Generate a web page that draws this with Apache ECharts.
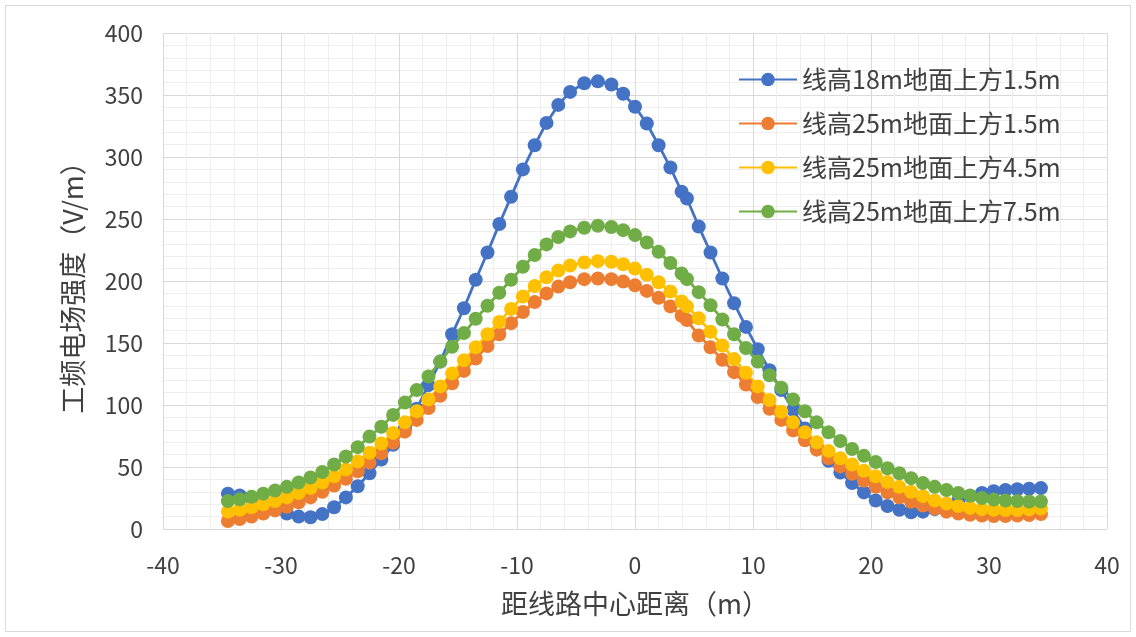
<!DOCTYPE html>
<html>
<head>
<meta charset="utf-8">
<script src="https://cdn.jsdelivr.net/npm/echarts@6/dist/echarts.min.js"></script>
<style>
  html, body { margin: 0; padding: 0; background: #fff; }
  #chart { width: 1136px; height: 637px; }
</style>
</head>
<body>
<div id="chart"></div>
<script>
// distance from line centre (m), shared by all four series
const xValues = [
    -34.5, -33.5, -32.5, -31.5, -30.5, -29.5, -28.5, -27.5, -26.5, -25.5,
    -24.5, -23.5, -22.5, -21.5, -20.5, -19.5, -18.5, -17.5, -16.5, -15.5,
    -14.5, -13.5, -12.5, -11.5, -10.5, -9.5, -8.5, -7.5, -6.5, -5.5,
    -4.3, -3.15, -2, -1, 0, 1, 2, 3, 3.95, 4.4,
    5.4, 6.4, 7.4, 8.4, 9.4, 10.4, 11.4, 12.4, 13.4, 14.4,
    15.4, 16.4, 17.4, 18.4, 19.4, 20.4, 21.4, 22.4, 23.4, 24.4,
    25.4, 26.4, 27.4, 28.4, 29.4, 30.4, 31.4, 32.4, 33.4, 34.4
];

const seriesNames = ['线高18m地面上方1.5m', '线高25m地面上方1.5m', '线高25m地面上方4.5m', '线高25m地面上方7.5m'];
const seriesColors = ['#4472C4', '#ED7D31', '#FFC000', '#70AD47'];

const h18At15 = [
    28.5, 27, 24, 20.5, 16.5, 12.5, 10, 9.5, 12, 17.5,
    25.5, 34.5, 45, 56, 68, 81, 97, 116, 135, 157,
    178, 201, 223, 246, 268, 290, 309.5, 327.5, 342, 352.5,
    359.5, 361, 358.5, 351, 340.5, 327, 309.5, 291.5, 272, 266.5,
    244, 223, 202, 182, 163, 145, 128, 112, 96, 81,
    67, 55, 45.5, 37, 29.5, 23, 18.5, 15.5, 13.5, 14,
    16, 19.5, 23, 26.5, 29, 30.5, 31.5, 32, 32.5, 33
];
const h25At15 = [
    6.5, 8, 10, 12.5, 15, 18, 21.5, 25.5, 30, 35,
    40.5, 46.5, 53.5, 61, 69.5, 78.5, 88, 97.5, 107.5, 117.5,
    127.5, 137.5, 147.5, 157, 166, 175, 183, 190, 195.5, 199,
    201.5, 202, 201.5, 199.5, 196.5, 192, 186.5, 179.5, 172, 168.5,
    156, 146.5, 136.5, 126.5, 116.5, 106.5, 97, 88, 79.5, 71.5,
    64, 57, 50.5, 44.5, 39, 34, 29.5, 25.5, 22, 19,
    16.5, 14, 12.5, 11.5, 10.8, 10.5, 10.5, 10.8, 11.3, 12
];
const h25At45 = [
    14, 15.5, 17.5, 20, 22.5, 25.5, 29, 33, 37.5, 42.5,
    48, 54.5, 61.5, 69, 77.5, 86, 95, 104.5, 115, 125.5,
    136, 146.5, 157, 167, 177.5, 187.5, 196, 203, 208.5, 212.5,
    215, 216, 215.5, 213.5, 210, 205, 199, 191.5, 183.5, 179.5,
    170, 159, 148, 137, 126, 115, 104, 94.5, 86, 78,
    70, 63, 57, 52, 47, 42.5, 38, 34, 30, 26.5,
    23, 20.5, 18.5, 17, 16, 15.5, 15.3, 15.3, 15.8, 16.5
];
const h25At75 = [
    22.5, 24, 26, 28.5, 31, 34, 37.5, 41.5, 46, 52,
    58.5, 66, 74.5, 82.5, 92, 102, 112, 123, 135, 147,
    158, 169.5, 180, 190.5, 201, 211.5, 221, 229.5, 235.5, 240,
    243, 244.5, 243.5, 241, 237, 231, 223.5, 214.5, 206, 201.5,
    191, 180.5, 169, 157, 146, 135, 124, 114, 104.5, 95,
    86, 78, 71, 64.5, 59, 54, 49, 45, 41, 37,
    34, 31.5, 29, 27, 25, 23.8, 23, 22.5, 22.2, 22.2
];

const allValues = [h18At15, h25At15, h25At45, h25At75];

const font = '"Noto Sans CJK SC", "Noto Sans", sans-serif';
const majorGrid = { show: true, lineStyle: { color: '#d9d9d9', width: 1 } };
const minorGrid = { show: true, lineStyle: { color: '#eeeeee', width: 1 } };

const chart = echarts.init(document.getElementById('chart'), null, { renderer: 'canvas' });

chart.setOption({
    animation: false,
    backgroundColor: '#ffffff',
    textStyle: { fontFamily: font },
    graphic: [{
        type: 'rect',
        shape: { x: 5.5, y: 5.5, width: 1125, height: 626 },
        style: { fill: 'none', stroke: '#d9d9d9', lineWidth: 1 },
        silent: true,
    }],
    grid: { left: 163, right: 29, top: 33, bottom: 108 },
    legend: {
        data: seriesNames,
        orient: 'vertical',
        left: 733,
        top: 62,
        itemWidth: 58,
        itemHeight: 17,
        itemGap: 19,
        textStyle: { fontSize: 25, color: '#404040', fontFamily: font },
    },
    xAxis: {
        type: 'value',
        min: -40,
        max: 40,
        interval: 10,
        name: '距线路中心距离（m）',
        nameLocation: 'middle',
        nameGap: 61,
        nameTextStyle: { fontSize: 27, color: '#404040' },
        axisLine: { show: false },
        axisTick: { show: false },
        axisLabel: { fontSize: 23, color: '#404040', margin: 25 },
        splitLine: majorGrid,
        minorTick: { show: false, splitNumber: 5 },
        minorSplitLine: minorGrid,
    },
    yAxis: {
        type: 'value',
        min: 0,
        max: 400,
        interval: 50,
        name: '工频电场强度（V/m）',
        nameLocation: 'middle',
        nameGap: 77,
        nameRotate: 90,
        nameTextStyle: { fontSize: 27, color: '#404040' },
        axisLine: { show: false },
        axisTick: { show: false },
        axisLabel: { fontSize: 23, color: '#404040', margin: 20 },
        splitLine: majorGrid,
        minorTick: { show: false, splitNumber: 5 },
        minorSplitLine: minorGrid,
    },
    series: seriesNames.map((name, k) => ({
        name,
        type: 'line',
        symbol: 'circle',
        symbolSize: 14,
        smooth: false,
        itemStyle: { color: seriesColors[k] },
        lineStyle: { color: seriesColors[k], width: 2.8 },
        data: xValues.map((x, i) => [x, allValues[k][i]]),
    })),
});
</script>
</body>
</html>
